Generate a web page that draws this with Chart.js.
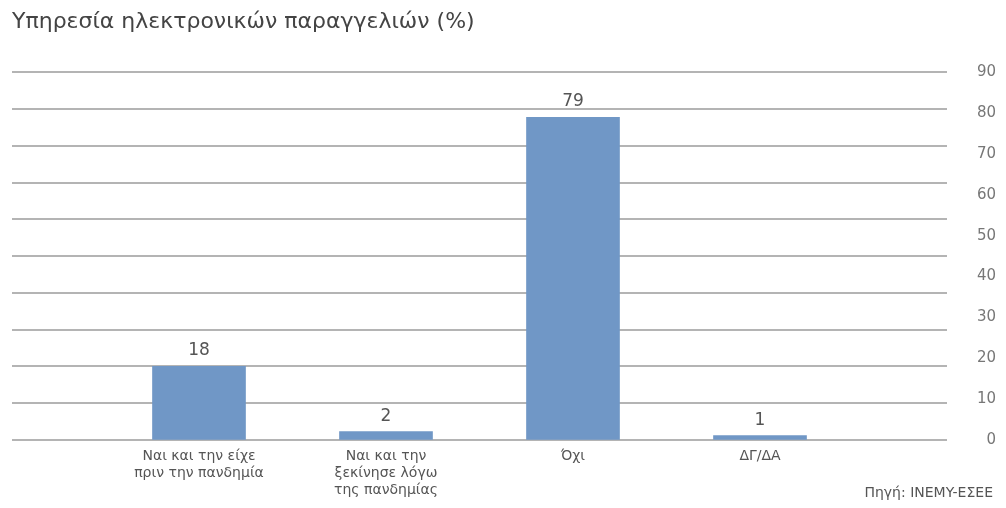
<!DOCTYPE html>
<html lang="el">
<head>
<meta charset="utf-8">
<title>Υπηρεσία ηλεκτρονικών παραγγελιών</title>
<script src="https://cdn.jsdelivr.net/npm/chart.js@4/dist/chart.umd.min.js"></script>
<style>
  html, body { margin: 0; padding: 0; background: #fff; }
  #wrap { width: 1006px; height: 508px; }
</style>
</head>
<body>
<div id="wrap"><canvas id="ordersChart" width="1006" height="508"></canvas></div>
<script>
// empty slots at both ends keep the four answers away from the edges
const categories = [
  "",
  ["Ναι και την είχε", "πριν την πανδημία"],
  ["Ναι και την", "ξεκίνησε λόγω", "της πανδημίας"],
  "Όχι",
  "ΔΓ/ΔΑ",
  ""
];
const shares = [null, 18, 2, 79, 1, null];
const yMin = 0;
const yMax = 90;
const yStep = 10;
// the horizontal rules run on their own 0-100 grid
const gridMax = 100;
const sourceText = "Πηγή: INEMY-ΕΣΕΕ";

const barColor = "#7097c6";
const textColor = "#555";
const ruleColor = "#b4b4b4";
const fontFamily = "'DejaVu Sans', 'Noto Sans', sans-serif";

const valueLabels = {
  id: "valueLabels",
  afterDatasetsDraw(chart) {
    const ctx = chart.ctx;
    const meta = chart.getDatasetMeta(0);
    ctx.save();
    ctx.font = "17px " + fontFamily;
    ctx.fillStyle = textColor;
    ctx.textAlign = "center";
    ctx.textBaseline = "bottom";
    meta.data.forEach((bar, i) => {
      if (shares[i] == null) return;
      ctx.fillText(String(shares[i]), bar.x, bar.y - 7);
    });
    ctx.restore();
  }
};

const sourceNote = {
  id: "sourceNote",
  afterDraw(chart) {
    const ctx = chart.ctx;
    ctx.save();
    ctx.font = "14px " + fontFamily;
    ctx.fillStyle = textColor;
    ctx.textAlign = "right";
    ctx.textBaseline = "middle";
    ctx.fillText(sourceText, chart.width - 13, 493);
    ctx.restore();
  }
};

new Chart(document.getElementById("ordersChart").getContext("2d"), {
  type: "bar",
  data: {
    labels: categories,
    datasets: [
      {
        data: shares,
        backgroundColor: barColor,
        barThickness: 93,
        yAxisID: "y"
      }
    ]
  },
  options: {
    responsive: false,
    animation: false,
    layout: { padding: { left: 12, right: 10, top: 0, bottom: 1 } },
    plugins: {
      legend: { display: false },
      tooltip: { enabled: false },
      title: {
        display: true,
        text: "Υπηρεσία ηλεκτρονικών παραγγελιών (%)",
        align: "start",
        color: "#444",
        font: { family: fontFamily, size: 22, weight: "normal", lineHeight: 1.2 },
        padding: { top: 9, bottom: 37 }
      }
    },
    scales: {
      x: {
        offset: false,
        grid: { display: false, drawTicks: false },
        border: { display: false },
        ticks: {
          autoSkip: false,
          maxRotation: 0,
          padding: 8,
          color: textColor,
          font: { family: fontFamily, size: 14, lineHeight: 1.22 }
        }
      },
      yGrid: {
        position: "left",
        min: yMin,
        max: gridMax,
        grid: { color: ruleColor, lineWidth: 2, drawTicks: false },
        border: { display: false },
        ticks: { display: false, stepSize: yStep }
      },
      y: {
        position: "right",
        min: yMin,
        max: yMax,
        grid: { display: false, drawTicks: false },
        border: { display: false },
        afterFit(axis) {
          axis.width = 49;
        },
        ticks: {
          stepSize: yStep,
          padding: 30,
          crossAlign: "far",
          color: "#777",
          font: { family: fontFamily, size: 15 }
        }
      }
    }
  },
  plugins: [valueLabels, sourceNote]
});
</script>
</body>
</html>
